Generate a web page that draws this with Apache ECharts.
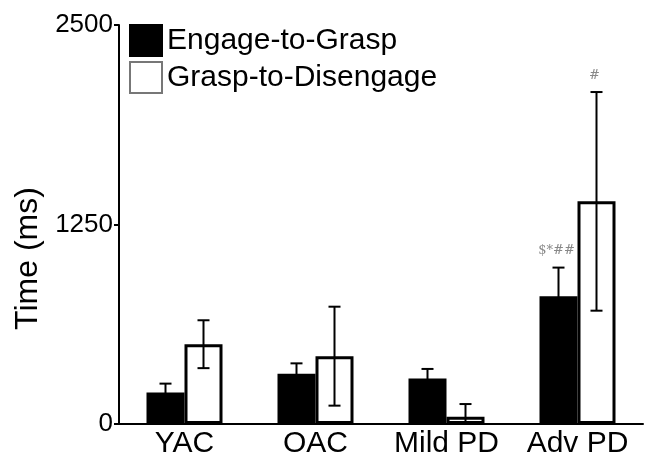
<!DOCTYPE html>
<html>
<head>
<meta charset="utf-8">
<script src="https://cdn.jsdelivr.net/npm/echarts@6/dist/echarts.min.js"></script>
<style>
  html, body { margin: 0; padding: 0; background: #fff; }
  #main { width: 647px; height: 459px; }
</style>
</head>
<body>
<div id="main"></div>
<script>
// values (ms)
var categories = ['YAC', 'OAC', 'Mild PD', 'Adv PD'];
var engageMean = [198, 315, 285, 800];
var engageSd = [55, 65, 60, 180];
var graspMean = [500, 425, 45, 1395];
var graspSd = [150, 310, 80, 685];
var engageNote = ['', '', '', '$*##'];
var graspNote = ['', '', '', '#'];
var yTicks = [0, 1250, 2500];

var BAR_W = 38;

function errRender(offset, notes) {
  return function (params, api) {
    var i = api.value(0), m = api.value(1), s = api.value(2);
    var lo = Math.max(0, m - s), hi = m + s;
    var top = api.coord([i, hi]);
    var bot = api.coord([i, lo]);
    var x = top[0] + offset;
    var st = { stroke: '#000', lineWidth: 2 };
    var kids = [
      { type: 'line', shape: { x1: x, y1: top[1], x2: x, y2: bot[1] }, style: st },
      { type: 'line', shape: { x1: x - 6, y1: top[1], x2: x + 6, y2: top[1] }, style: st }
    ];
    if (lo > 0) {
      kids.push({ type: 'line', shape: { x1: x - 6, y1: bot[1], x2: x + 6, y2: bot[1] }, style: st });
    }
    var note = notes[params.dataIndex];
    if (note) {
      kids.push({
        type: 'text',
        style: {
          text: note, x: x - 2, y: top[1] - 10,
          align: 'center', verticalAlign: 'bottom',
          fill: '#888', font: '13px "DejaVu Serif"'
        }
      });
    }
    return { type: 'group', children: kids };
  };
}

var chart = echarts.init(document.getElementById('main'));

var option = {
  animation: false,
  backgroundColor: '#fff',
  grid: { left: 119, right: 4, top: 25, bottom: 34 },
  legend: {
    orient: 'vertical',
    left: 129, top: 24,
    padding: 0,
    icon: 'rect',
    itemWidth: 32, itemHeight: 31, itemGap: 4,
    textStyle: { fontSize: 30, color: '#000', fontFamily: 'Liberation Sans' },
    data: [
      { name: 'Engage-to-Grasp', itemStyle: { color: '#000' } },
      { name: 'Grasp-to-Disengage', itemStyle: { color: '#fff', borderColor: '#777', borderWidth: 2 } }
    ]
  },
  xAxis: {
    type: 'category',
    data: categories,
    axisLine: { lineStyle: { color: '#000', width: 2 } },
    axisTick: { show: false },
    axisLabel: { interval: 0, fontSize: 30, color: '#000', margin: 5, fontFamily: 'Liberation Sans' }
  },
  yAxis: {
    type: 'value',
    min: 0, max: 2500, interval: 1250,
    name: 'Time (ms)',
    nameLocation: 'middle',
    nameGap: 66,
    nameTextStyle: { fontSize: 32, color: '#000', fontFamily: 'Liberation Sans', padding: [0, 68, 0, 0] },
    axisLine: { show: true, lineStyle: { color: '#000', width: 2 } },
    axisTick: { show: true, length: 5, lineStyle: { color: '#000', width: 2 } },
    axisLabel: {
      fontSize: 26, color: '#000', margin: 6, fontFamily: 'Liberation Sans',
      formatter: function (v) { return yTicks.indexOf(v) >= 0 ? String(v) : ''; }
    },
    splitLine: { show: false }
  },
  series: [
    {
      name: 'Engage-to-Grasp',
      type: 'bar',
      barWidth: BAR_W,
      barGap: '0%',
      data: engageMean,
      itemStyle: { color: '#000', borderColor: '#000', borderWidth: 2 }
    },
    {
      name: 'Grasp-to-Disengage',
      type: 'bar',
      barWidth: BAR_W,
      barGap: '0%',
      data: graspMean,
      itemStyle: { color: '#fff', borderColor: '#000', borderWidth: 3 }
    },
    {
      type: 'custom',
      renderItem: errRender(-BAR_W / 2, engageNote),
      data: engageMean.map(function (m, i) { return [i, m, engageSd[i]]; }),
      z: 5
    },
    {
      type: 'custom',
      renderItem: errRender(BAR_W / 2, graspNote),
      data: graspMean.map(function (m, i) { return [i, m, graspSd[i]]; }),
      z: 5
    }
  ]
};

chart.setOption(option);
</script>
</body>
</html>
